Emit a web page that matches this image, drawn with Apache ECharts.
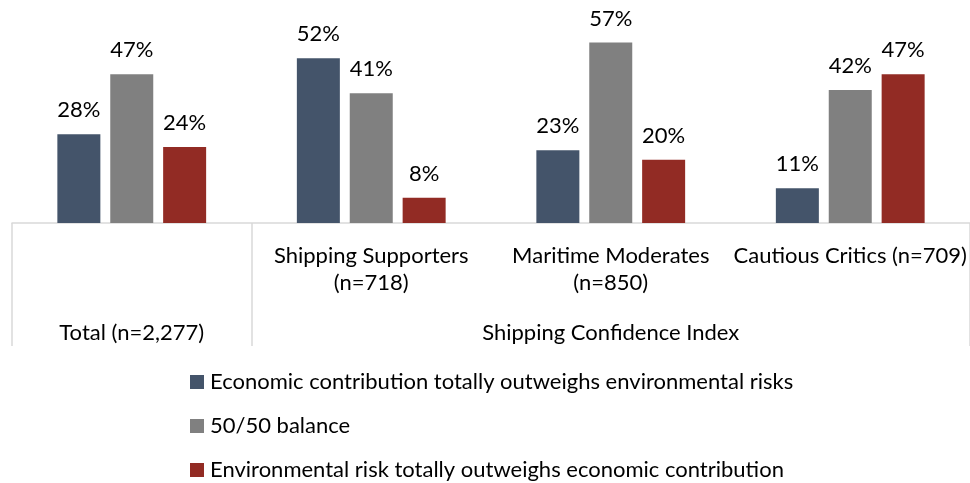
<!DOCTYPE html>
<html>
<head>
<meta charset="utf-8">
<script src="https://cdn.jsdelivr.net/npm/echarts@6/dist/echarts.min.js"></script>
<style>
html,body{margin:0;padding:0;background:#fff;}
#chart{width:970px;height:483px;}
</style>
</head>
<body>
<div id="chart"></div>
<script>
const categories = ['Total (n=2,277)', 'Shipping Supporters\n(n=718)', 'Maritime Moderates\n(n=850)', 'Cautious Critics (n=709)'];
const innerLabels = ['', 'Shipping Supporters\n(n=718)', 'Maritime Moderates\n(n=850)', 'Cautious Critics (n=709)'];
const outerLabels = ['Total (n=2,277)', '', 'Shipping Confidence Index', ''];
const seriesNames = [
  'Economic contribution totally outweighs environmental risks',
  '50/50 balance',
  'Environmental risk totally outweighs economic contribution'
];
const economicValues = [28, 52, 23, 11];
const balanceValues = [47, 41, 57, 42];
const environmentalValues = [24, 8, 20, 47];

const FONT = 'Lato';
const FS = 22;
const colors = ['#44546A', '#808080', '#922B24'];

const chart = echarts.init(document.getElementById('chart'), null, {renderer: 'canvas'});
const labelStyle = {
  show: true, position: 'top', distance: 13,
  formatter: '{c}%', color: '#000', fontFamily: FONT, fontSize: FS
};
function mk(name, data, i) {
  return {
    name: name, type: 'bar', data: data, xAxisIndex: 0,
    barWidth: 43, barGap: '23%',
    itemStyle: {color: colors[i]},
    label: labelStyle
  };
}
chart.setOption({
  animation: false,
  textStyle: {fontFamily: FONT},
  grid: {left: 12, width: 960, top: 33, height: 190},
  legend: {
    orient: 'vertical', left: 190, top: 371, padding: 0,
    itemWidth: 14, itemHeight: 14, itemGap: 22,
    icon: 'rect',
    textStyle: {fontFamily: FONT, fontSize: FS, lineHeight: 22, color: '#000', padding: [0,0,0,1]},
    data: seriesNames
  },
  xAxis: [{
    type: 'category', data: categories, position: 'bottom',
    axisLine: {show: true, lineStyle: {color: '#D9D9D9', width: 1.5}},
    axisTick: {show: false},
    axisLabel: {
      interval: 0, margin: 19, color: '#000', fontFamily: FONT, fontSize: FS,
      lineHeight: 27, align: 'center',
      formatter: function (v, i) { return innerLabels[i]; }
    }
  }, {
    type: 'category', data: categories, position: 'bottom',
    axisLine: {show: false},
    axisTick: {
      show: true, length: 123,
      interval: function (i) { return i <= 1; },
      lineStyle: {color: '#D9D9D9', width: 1.5}
    },
    axisLabel: {
      interval: 0, margin: 96, color: '#000', fontFamily: FONT, fontSize: FS,
      lineHeight: 27,
      formatter: function (v, i) { return outerLabels[i]; }
    }
  }],
  yAxis: {
    type: 'value', min: 0, max: 60, show: false,
    splitLine: {show: false}
  },
  series: [
    mk(seriesNames[0], economicValues, 0),
    mk(seriesNames[1], balanceValues, 1),
    mk(seriesNames[2], environmentalValues, 2)
  ]
});
</script>
</body>
</html>
